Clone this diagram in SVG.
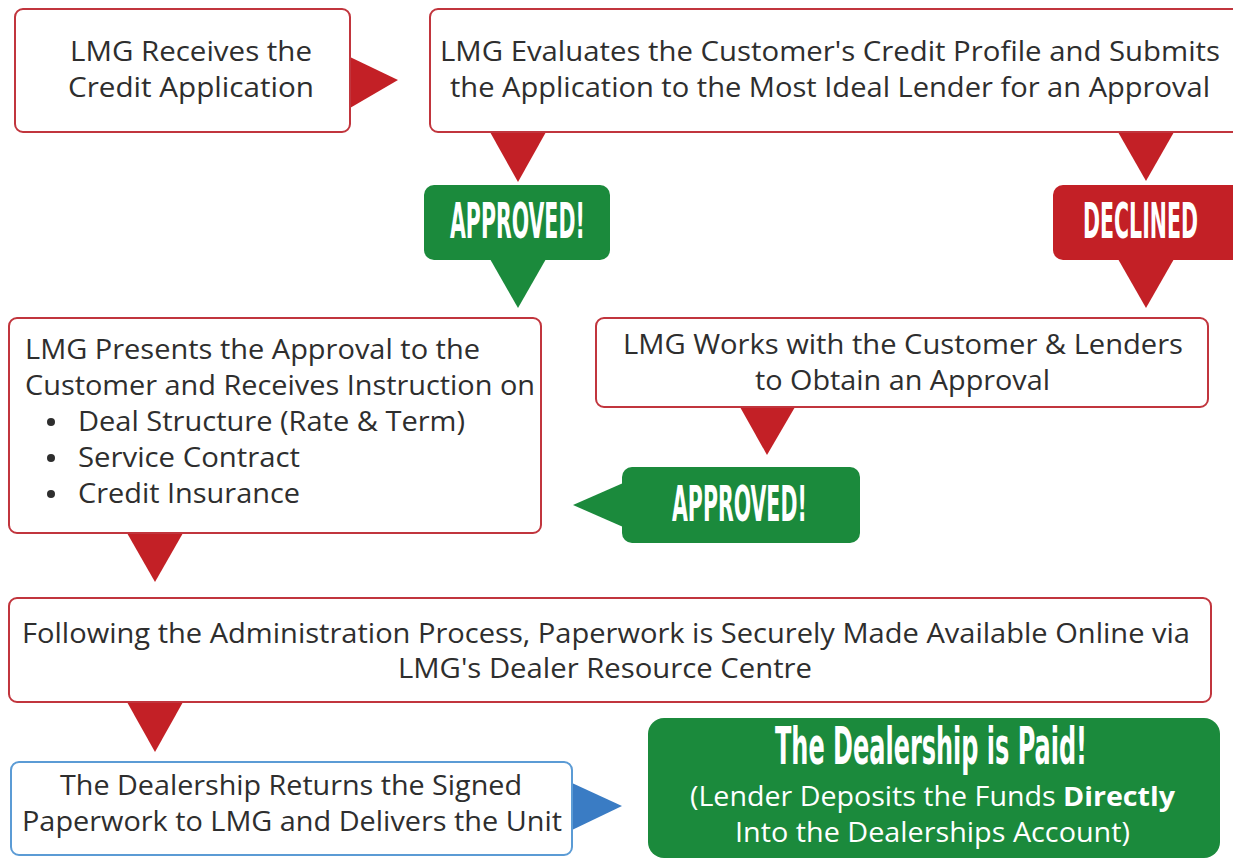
<svg xmlns="http://www.w3.org/2000/svg" width="1233" height="860" viewBox="0 0 1233 860">
<style>
.box{fill:#fff;stroke:#c1353d;stroke-width:2}
.bbox{fill:#fff;stroke:#5b9bd5;stroke-width:2}
.green{fill:#1b8a3c}
.red{fill:#c32026}
.blue{fill:#3a7cc4}
.t{font-family:"Open Sans","Liberation Sans",sans-serif;font-size:27px;fill:#2e2e2e}
.w{font-family:"Open Sans","Liberation Sans",sans-serif;font-size:27px;fill:#fff}
.h{font-family:"Liberation Sans Narrow","DejaVu Sans Condensed","Liberation Sans",sans-serif;font-weight:bold;fill:#fff}
</style>
<rect width="1233" height="860" fill="#fff"/>
<g id="connectors">
<polygon class="red" points="350,57 398,80 350,108"/>
<polygon class="red" points="490,132 546,132 518,182"/>
<polygon class="red" points="1118,132 1174,132 1146,181"/>
<polygon class="green" points="490,259 546,259 518,308"/>
<polygon class="red" points="1118,259 1174,259 1146,308"/>
<polygon class="red" points="740,407 795,407 767,455"/>
<polygon class="red" points="127,533 183,533 155,582"/>
<polygon class="red" points="127,702 183,702 155,752"/>
<polygon class="blue" points="572,783 622,806 572,830"/>
</g>
<g id="n1">
<rect class="box" x="15" y="9" width="335" height="123" rx="8"/>
<text class="t" x="70" y="61" textLength="242" lengthAdjust="spacingAndGlyphs">LMG Receives the</text>
<text class="t" x="68" y="97" textLength="246" lengthAdjust="spacingAndGlyphs">Credit Application</text>
</g>
<g id="n2">
<rect class="box" x="430" y="9" width="810" height="123" rx="8"/>
<text class="t" x="440" y="61" textLength="780" lengthAdjust="spacingAndGlyphs">LMG Evaluates the Customer's Credit Profile and Submits</text>
<text class="t" x="450" y="97" textLength="760" lengthAdjust="spacingAndGlyphs">the Application to the Most Ideal Lender for an Approval</text>
</g>
<g id="approved1">
<rect class="green" x="424" y="185" width="186" height="75" rx="10"/>
<text class="h" transform="translate(450,238) scale(0.55,1)" font-size="50" textLength="245" lengthAdjust="spacingAndGlyphs">APPROVED!</text>
</g>
<g id="declined">
<rect class="red" x="1053" y="185" width="190" height="75" rx="10"/>
<text class="h" transform="translate(1083,238) scale(0.55,1)" font-size="50" textLength="209" lengthAdjust="spacingAndGlyphs">DECLINED</text>
</g>
<g id="n3">
<rect class="box" x="9" y="318" width="532" height="215" rx="8"/>
<text class="t" x="25" y="359" textLength="455" lengthAdjust="spacingAndGlyphs">LMG Presents the Approval to the</text>
<text class="t" x="25" y="395" textLength="510" lengthAdjust="spacingAndGlyphs">Customer and Receives Instruction on</text>
<circle cx="51" cy="422" r="4" fill="#2e2e2e"/>
<text class="t" x="78" y="431" textLength="387" lengthAdjust="spacingAndGlyphs">Deal Structure (Rate &amp; Term)</text>
<circle cx="51" cy="458" r="4" fill="#2e2e2e"/>
<text class="t" x="78" y="467" textLength="222" lengthAdjust="spacingAndGlyphs">Service Contract</text>
<circle cx="51" cy="494" r="4" fill="#2e2e2e"/>
<text class="t" x="78" y="503" textLength="222" lengthAdjust="spacingAndGlyphs">Credit Insurance</text>
</g>
<g id="n4">
<rect class="box" x="596" y="318" width="612" height="89" rx="8"/>
<text class="t" x="623" y="354" textLength="560" lengthAdjust="spacingAndGlyphs">LMG Works with the Customer &amp; Lenders</text>
<text class="t" x="755" y="390" textLength="295" lengthAdjust="spacingAndGlyphs">to Obtain an Approval</text>
</g>
<g id="approved2">
<polygon class="green" points="573,505 630,480 630,530"/>
<rect class="green" x="622" y="467" width="238" height="76" rx="10"/>
<text class="h" transform="translate(672,521) scale(0.55,1)" font-size="50" textLength="245" lengthAdjust="spacingAndGlyphs">APPROVED!</text>
</g>
<g id="n5">
<rect class="box" x="9" y="598" width="1202" height="104" rx="8"/>
<text class="t" x="22" y="643" textLength="1168" lengthAdjust="spacingAndGlyphs">Following the Administration Process, Paperwork is Securely Made Available Online via</text>
<text class="t" x="398" y="678" textLength="414" lengthAdjust="spacingAndGlyphs">LMG's Dealer Resource Centre</text>
</g>
<g id="n6">
<rect class="bbox" x="11" y="762" width="561" height="93" rx="8"/>
<text class="t" x="60" y="795" textLength="462" lengthAdjust="spacingAndGlyphs">The Dealership Returns the Signed</text>
<text class="t" x="22" y="831" textLength="540" lengthAdjust="spacingAndGlyphs">Paperwork to LMG and Delivers the Unit</text>
</g>
<g id="n7">
<rect class="green" x="648" y="718" width="572" height="140" rx="16"/>
<text class="h" transform="translate(775,764) scale(0.6,1)" font-size="52" textLength="520" lengthAdjust="spacingAndGlyphs">The Dealership is Paid!</text>
<text class="w" x="690" y="806" textLength="485" lengthAdjust="spacingAndGlyphs">(Lender Deposits the Funds <tspan font-weight="bold">Directly</tspan></text>
<text class="w" x="735" y="842" textLength="395" lengthAdjust="spacingAndGlyphs">Into the Dealerships Account)</text>
</g>
</svg>
